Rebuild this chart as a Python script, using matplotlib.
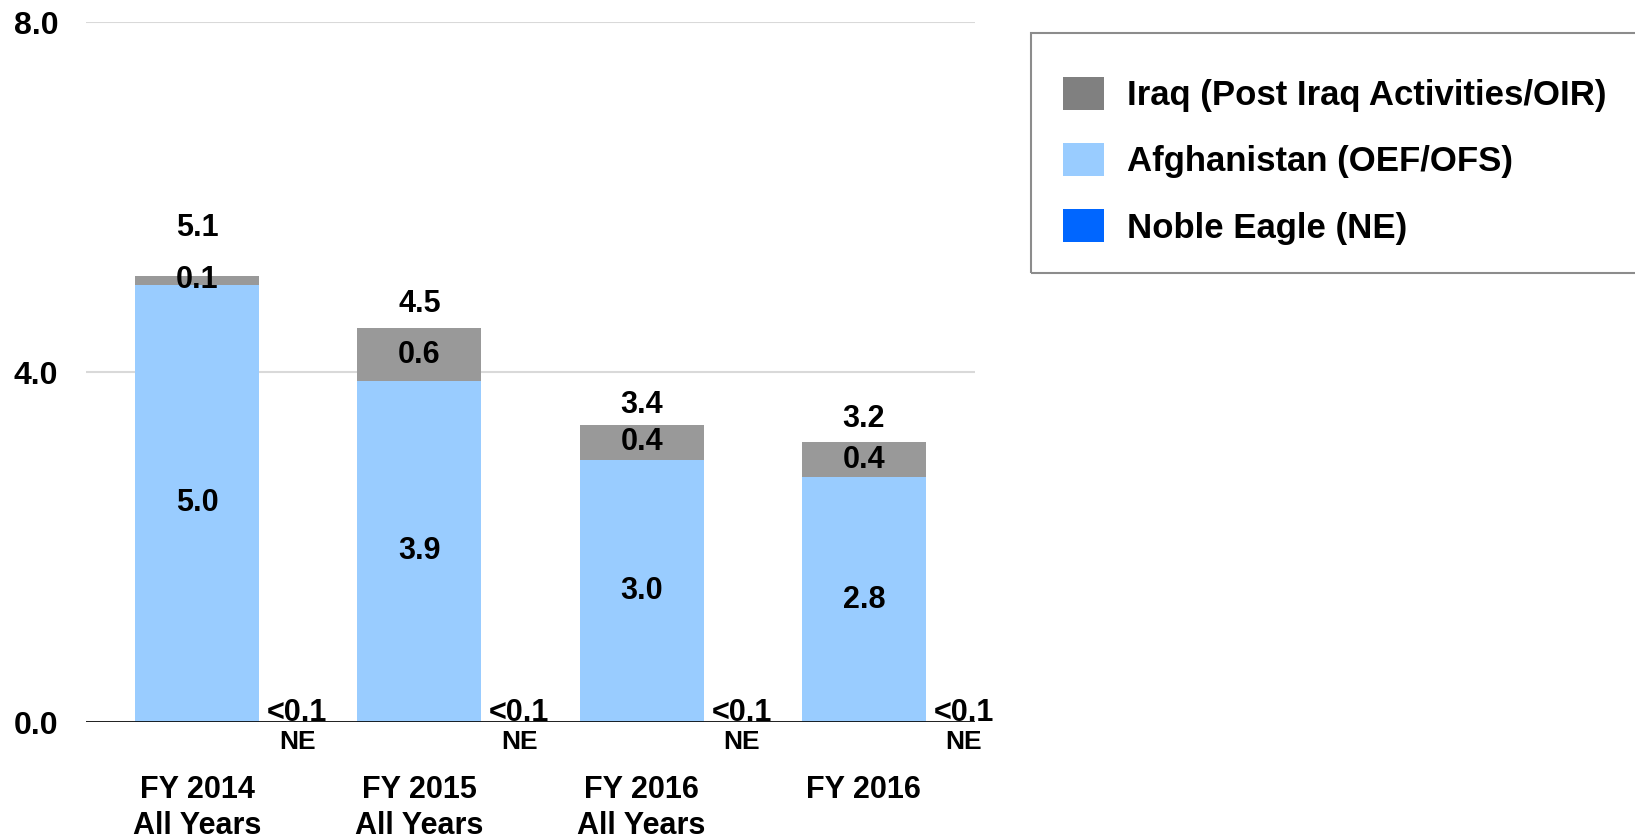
import matplotlib
matplotlib.use('Agg')
import matplotlib.pyplot as plt
from matplotlib.patches import Patch, Rectangle
import numpy as np

plt.rcParams['font.family'] = ['Liberation Sans', 'DejaVu Sans']
plt.rcParams['font.weight'] = 'bold'

# Data (billions)
categories = ['FY 2014\nAll Years', 'FY 2015\nAll Years', 'FY 2016\nAll Years', 'FY 2016']
afghanistan = [5.0, 3.9, 3.0, 2.8]
iraq = [0.1, 0.6, 0.4, 0.4]
totals = [5.1, 4.5, 3.4, 3.2]
noble_eagle = [0.0, 0.0, 0.0, 0.0]
ne_labels = ['<0.1', '<0.1', '<0.1', '<0.1']
series_names = ['Iraq (Post Iraq Activities/OIR)', 'Afghanistan (OEF/OFS)', 'Noble Eagle (NE)']
y_ticks = [0.0, 4.0, 8.0]

IRAQ_C = '#999999'
AFG_C = '#99CCFF'
NE_C = '#0066FF'

W, H = 1635, 840
fig = plt.figure(figsize=(W / 100, H / 100), dpi=100)
ax = fig.add_axes([86 / W, 1 - 722 / H, (975 - 86) / W, 700 / H])

x = np.arange(len(categories))
bw = 0.558
ne_off = 0.45

ax.bar(x, afghanistan, bw, color=AFG_C, zorder=2)
ax.bar(x, iraq, bw, bottom=afghanistan, color=IRAQ_C, zorder=2)
ax.bar(x + ne_off, noble_eagle, bw, color=NE_C, zorder=2)

ax.set_xlim(-0.5, 3.5)
ax.set_ylim(0, 8)
ax.set_yticks(y_ticks, [f'{v:.1f}' for v in y_ticks])
ax.tick_params(axis='y', length=0, pad=20, labelsize=23)
ax.set_xticks([])
for s in ax.spines.values():
    s.set_visible(False)
ax.set_axisbelow(True)
ax.grid(axis='y', color='#d9d9d9', linewidth=1.5)
ax.axhline(0, color='black', linewidth=1.2, zorder=3)

# segment labels
for i in range(len(categories)):
    ax.text(x[i], afghanistan[i] / 2, f'{afghanistan[i]:.1f}', ha='center', va='center',
            fontsize=22, fontweight='bold', zorder=4)
    ax.text(x[i], afghanistan[i] + iraq[i] / 2, f'{iraq[i]:.1f}', ha='center', va='center',
            fontsize=22, fontweight='bold', zorder=4)

# total labels (first one lifted clear of the thin Iraq label)
total_gap = [0.55, 0.28, 0.22, 0.26]
for i, t in enumerate(totals):
    ax.text(x[i], t + total_gap[i], f'{t:.1f}', ha='center', va='center',
            fontsize=22, fontweight='bold')

# NE labels
for i, lab in enumerate(ne_labels):
    ax.annotate(lab, xy=(x[i] + ne_off, 0), xytext=(0, 1), textcoords='offset points',
                ha='center', va='baseline', fontsize=22, fontweight='bold')
    ax.annotate('NE', xy=(x[i] + ne_off, 0), xytext=(0, -14.4), textcoords='offset points',
                ha='center', va='center', fontsize=19, fontweight='bold')

# category labels
for i, cat in enumerate(categories):
    ax.annotate(cat, xy=(x[i], 0), xycoords=('data', 'axes fraction'),
                xytext=(0, -37.8), textcoords='offset points', ha='center', va='top',
                fontsize=22, fontweight='bold', linespacing=1.27, annotation_clip=False)

# legend frame + legend
fig.patches.append(Rectangle((1031 / W, 1 - 273 / H), 0.4, 240 / H, transform=fig.transFigure,
                             facecolor='none', edgecolor='#8c8c8c', linewidth=1.5))
handles = [Patch(facecolor='#808080'), Patch(facecolor=AFG_C), Patch(facecolor=NE_C)]
fig.legend(handles, series_names, loc='upper left', bbox_to_anchor=(1063 / W, 1 - 77 / H),
           frameon=False, borderpad=0, borderaxespad=0,
           prop={'weight': 'bold', 'size': 25}, handlelength=1.18, handleheight=1.1,
           handletextpad=0.66, labelspacing=0.88)

fig.savefig('out.png', dpi=100)
